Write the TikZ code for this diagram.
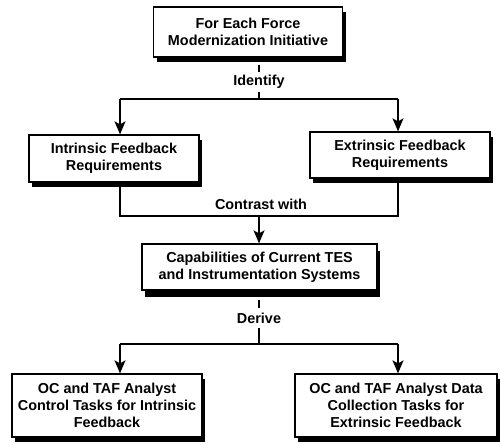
\documentclass[tikz,border=0pt]{standalone}
\usepackage{fontspec}
\setmainfont{Liberation Sans}
\usetikzlibrary{arrows.meta,shadows}
\begin{document}
\begin{tikzpicture}[x=1pt,y=-1pt,
  txt/.style={font=\fontsize{14.4}{17}\selectfont\bfseries},
  box/.style={txt,draw,line width=1.3pt,fill=white,align=center,inner sep=0pt,
    drop shadow={shadow xshift=3pt,shadow yshift=-#1,fill=black,opacity=1}},
  box/.default=5pt,
  link/.style={line width=1.4pt},
  arrow/.style={link,-{Stealth[length=13pt,width=11pt,inset=3pt]}},
  lbl/.style={txt,fill=white,inner sep=3pt}]
\useasboundingbox[fill=white] (0,0) rectangle (500,444);

% boxes
\node[box,minimum width=189pt,minimum height=50pt] (top) at (248,32)
  {For Each Force\\Modernization Initiative};
\node[box,minimum width=170pt,minimum height=47pt] (intr) at (114,158.5)
  {Intrinsic Feedback\\Requirements};
\node[box,minimum width=180pt,minimum height=46pt] (extr) at (400,155)
  {Extrinsic Feedback\\Requirements};
\node[box=7pt,minimum width=235pt,minimum height=46pt] (cap) at (259.5,267)
  {Capabilities of Current TES\\and Instrumentation Systems};
\node[box,minimum width=190pt,minimum height=63pt] (ctl) at (107,405.5)
  {OC and TAF Analyst\\Control Tasks for Intrinsic\\Feedback};
\node[box,minimum width=202pt,minimum height=63pt] (dat) at (396,405.5)
  {OC and TAF Analyst Data\\Collection Tasks for\\Extrinsic Feedback};

% labels
\node[lbl] (idf) at (259,82) {Identify};
\node[txt] (con) at (261,204) {Contrast with};
\node[lbl,inner sep=5pt] (der) at (259,318) {Derive};

% junctions
\coordinate (j1) at (259,99);
\coordinate (j1l) at (120,99);
\coordinate (j1r) at (398,99);
\coordinate (j2) at (259,216);
\coordinate (j2l) at (120,216);
\coordinate (j2r) at (398,216);
\coordinate (j3) at (259,344);
\coordinate (j3l) at (120,344);
\coordinate (j3r) at (398,344);

% identify
\draw[link] (top.south -| idf) ++(0,7) -- (idf);
\draw[link] (idf) -- (j1);
\draw[link] (j1l) -- (j1r);
\draw[arrow] (j1l) -- (j1l |- intr.north);
\draw[arrow] (j1r) -- (j1r |- extr.north);

% contrast with
\draw[link] (intr.south -| j2l) -- (j2l) -- (j2r) -- (extr.south -| j2r);
\draw[arrow] (j2) -- (j2 |- cap.north);

% derive
\draw[link] (cap.south -| der) ++(0,9) -- (der);
\draw[link] (der) -- (j3);
\draw[link] (j3l) -- (j3r);
\draw[arrow] (j3l) -- (j3l |- ctl.north);
\draw[arrow] (j3r) -- (j3r |- dat.north);
\end{tikzpicture}
\end{document}
